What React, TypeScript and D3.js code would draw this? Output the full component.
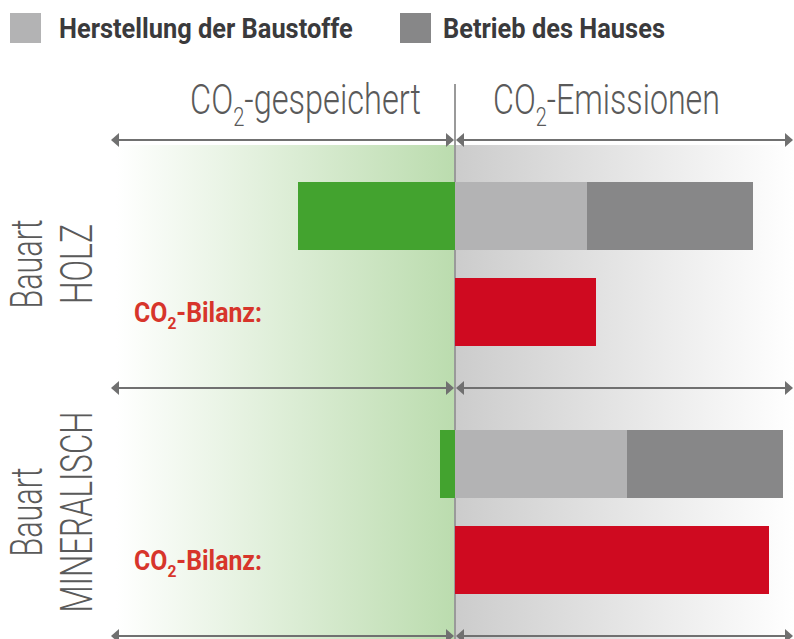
import React, { useRef, useEffect } from 'react';
import * as d3 from 'd3';

// Chart values (arbitrary CO2 units)
const groups = ['HOLZ', 'MINERALISCH'];
const stored = [-157, -15];
const production = [132, 172];
const operation = [166, 156];
const balance = [141, 314];
const legendLabels = ['Herstellung der Baustoffe', 'Betrieb des Hauses'];

const W = 794;
const H = 639;

const colors = {
  stored: '#43a32f',
  production: '#b3b3b4',
  operation: '#878788',
  balance: '#cf0a20',
  label: '#d7352b',
  text: '#5a5a5a',
  legendText: '#3a3a3c',
  arrow: '#707070'
};

// squeeze a text group horizontally to a target width (condensed look)
const fitWidth = (sel: any, x: number, y: number, target: number) => {
  const node = sel.node();
  const w = node.getBBox().width || 1;
  const k = target / w;
  sel.attr('transform', `translate(${x}, ${y}) scale(${k}, 1)`);
};

const App = () => {
  const svgRef = useRef<SVGSVGElement>(null);

  useEffect(() => {
    if (!svgRef.current) return;
    const svg = d3.select(svgRef.current);
    svg.selectAll('*').remove();

    const x = d3.scaleLinear().domain([-340, 335]).range([115, 790]);
    const x0 = x(0);
    const yGroup = d3.scaleBand().domain(groups).range([140, 636]).padding(0);
    const yRow = d3.scaleBand().domain(['bars', 'balance'])
      .range([0, yGroup.bandwidth()])
      .paddingInner(0.2917)
      .paddingOuter(0.4375);

    const defs = svg.append('defs');
    const gGreen = defs.append('linearGradient').attr('id', 'gGreen')
      .attr('x1', '0%').attr('x2', '100%');
    gGreen.append('stop').attr('offset', '0%').attr('stop-color', '#ffffff');
    gGreen.append('stop').attr('offset', '100%').attr('stop-color', '#bbdcae');
    const gGray = defs.append('linearGradient').attr('id', 'gGray')
      .attr('x1', '0%').attr('x2', '100%');
    gGray.append('stop').attr('offset', '0%').attr('stop-color', '#cccccc');
    gGray.append('stop').attr('offset', '100%').attr('stop-color', '#ffffff');

    svg.append('rect').attr('width', W).attr('height', H).attr('fill', '#fff');

    // background zones
    svg.append('rect')
      .attr('x', 116).attr('y', 145).attr('width', x0 - 116).attr('height', H - 145)
      .attr('fill', 'url(#gGreen)');
    svg.append('rect')
      .attr('x', x0).attr('y', 145).attr('width', W - x0).attr('height', H - 145)
      .attr('fill', 'url(#gGray)');

    // legend
    const legendColors = [colors.production, colors.operation];
    const legendX = [10, 400];
    const legendTextX = [59, 443];
    const legendW = [294, 222];
    legendLabels.forEach((lbl, i) => {
      svg.append('rect')
        .attr('x', legendX[i]).attr('y', 13).attr('width', 31).attr('height', 30)
        .attr('fill', legendColors[i]);
      const t = svg.append('text')
        .attr('font-family', 'Roboto, "Liberation Sans", sans-serif')
        .attr('font-weight', 700)
        .attr('font-size', 28)
        .attr('fill', colors.legendText)
        .text(lbl);
      fitWidth(t, legendTextX[i], 38, legendW[i]);
    });

    // column titles with subscript
    const title = (txt: string, xPos: number, target: number) => {
      const t = svg.append('text')
        .attr('font-family', 'Roboto, "Liberation Sans", sans-serif')
        .attr('font-weight', 300)
        .attr('font-size', 42)
        .attr('fill', colors.text);
      t.append('tspan').text('CO');
      t.append('tspan').attr('font-size', 26).attr('dy', 12).text('2');
      t.append('tspan').attr('dy', -12).text(txt);
      fitWidth(t, xPos, 114, target);
    };
    title('-gespeichert', 190, 231);
    title('-Emissionen', 493, 227);

    // center line
    svg.append('line')
      .attr('x1', x0).attr('x2', x0).attr('y1', 84).attr('y2', H)
      .attr('stroke', '#9a9a9a').attr('stroke-width', 2);

    // double arrows at group borders
    const arrowYs = [140, ...groups.map(g => (yGroup(g) as number) + yGroup.bandwidth())];
    const drawArrow = (xa: number, xb: number, y: number) => {
      svg.append('line')
        .attr('x1', xa + 4).attr('x2', xb - 4).attr('y1', y).attr('y2', y)
        .attr('stroke', colors.arrow).attr('stroke-width', 2);
      svg.append('path')
        .attr('d', `M${xa},${y} L${xa + 8},${y - 7} L${xa + 8},${y + 7} Z`)
        .attr('fill', colors.arrow);
      svg.append('path')
        .attr('d', `M${xb},${y} L${xb - 8},${y - 7} L${xb - 8},${y + 7} Z`)
        .attr('fill', colors.arrow);
    };
    arrowYs.forEach(y => {
      drawArrow(x(-344), x0 - 1, y);
      drawArrow(x0 + 1, x(338), y);
    });

    // bars
    groups.forEach((g, i) => {
      const gy = yGroup(g) as number;
      const by = gy + (yRow('bars') as number);
      const ry = gy + (yRow('balance') as number);
      const bh = yRow.bandwidth();

      svg.append('rect')
        .attr('x', x(stored[i])).attr('y', by)
        .attr('width', x0 - x(stored[i])).attr('height', bh)
        .attr('fill', colors.stored);
      svg.append('rect')
        .attr('x', x0).attr('y', by)
        .attr('width', x(production[i]) - x0).attr('height', bh)
        .attr('fill', colors.production);
      svg.append('rect')
        .attr('x', x(production[i])).attr('y', by)
        .attr('width', x(production[i] + operation[i]) - x(production[i])).attr('height', bh)
        .attr('fill', colors.operation);
      svg.append('rect')
        .attr('x', x0).attr('y', ry)
        .attr('width', x(balance[i]) - x0).attr('height', bh)
        .attr('fill', colors.balance);

      // CO2-Bilanz label
      const lb = svg.append('text')
        .attr('font-family', 'Roboto, "Liberation Sans", sans-serif')
        .attr('font-weight', 700)
        .attr('font-size', 27)
        .attr('fill', colors.label);
      lb.append('tspan').text('CO');
      lb.append('tspan').attr('font-size', 17).attr('dy', 7).text('2');
      lb.append('tspan').attr('dy', -7).text('-Bilanz:');
      fitWidth(lb, 134, ry + bh / 2 + 10, 128);

      // rotated group labels
      const cy = gy + yGroup.bandwidth() / 2;
      const rot = (txt: string, bx: number, len: number) => {
        const t = svg.append('text')
          .attr('font-family', 'Roboto, "Liberation Sans", sans-serif')
          .attr('font-weight', 300)
          .attr('font-size', 44)
          .attr('fill', colors.text)
          .attr('text-anchor', 'start')
          .text(txt);
        const w = (t.node() as SVGTextElement).getBBox().width || 1;
        t.attr('transform', `translate(${bx}, ${cy + len / 2}) rotate(-90) scale(${len / w}, 1)`);
      };
      rot('Bauart', 42, 89);
      rot(g, 92, g === 'HOLZ' ? 80 : 201);
    });
  }, []);

  return (
    <svg
      ref={svgRef}
      width={W}
      height={H}
      style={{ position: 'absolute', left: 0, top: 0, display: 'block' }}
    />
  );
};

export default App;
